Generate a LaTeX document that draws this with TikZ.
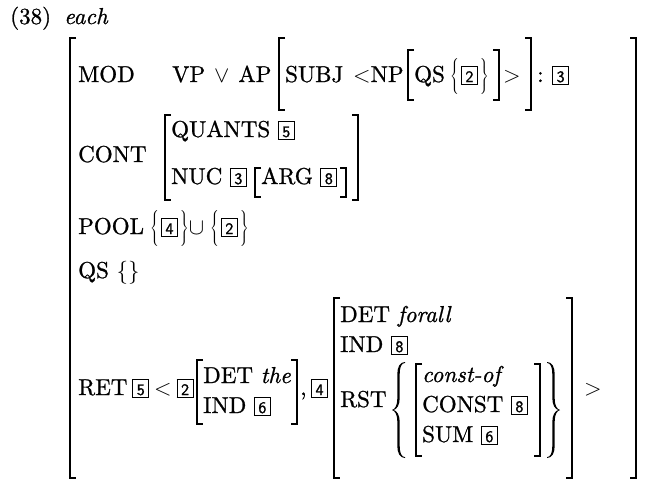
\RequirePackage{fix-cm}
\documentclass[tikz,border=0pt]{standalone}
\usepackage{fontspec}
\setmainfont{lmroman10-regular.otf}[ItalicFont=lmroman10-italic.otf, FakeBold=1.0]
\setsansfont{lmsans10-regular.otf}[FakeBold=1.2]
\newcommand\fs{\fontsize{23}{27}\selectfont}
\newcommand\bx[1]{{\setlength\fboxsep{0pt}\setlength\fboxrule{0.9pt}\fbox{\makebox[15pt]{\rule[-1.5pt]{0pt}{16.5pt}\fontsize{16}{16}\selectfont\sffamily #1}}}}
\newcommand\brc[3]{$\left\{\vrule height #1 depth #2 width 0pt\kern2pt\hbox{#3}\kern2pt\right\}$}
\newcommand\LB[3]{\draw[brk] (#1+6,#2) -- (#1,#2) -- (#1,#3) -- (#1+6,#3);}
\newcommand\RB[3]{\draw[brk] (#1-6,#2) -- (#1,#2) -- (#1,#3) -- (#1-6,#3);}
% brace shape, tip at origin, half height #1, opening to the right
\newcommand\BraceShape[1]{\fill (13,-#1) .. controls (8,-#1) and (5.3,-#1+5) .. (5.3,-#1+12) -- (5.3,-12) .. controls (5.3,-4) and (3,-1) .. (0,0) .. controls (3,1) and (5.3,4) .. (5.3,12) -- (5.3,#1-12) .. controls (5.3,#1-5) and (8,#1) .. (13,#1) -- (13,#1-0.9) .. controls (9.5,#1-1) and (7.7,#1-5) .. (7.7,#1-12) -- (7.7,12) .. controls (7.7,5) and (5,1) .. (1.8,0) .. controls (5,-1) and (7.7,-5) .. (7.7,-12) -- (7.7,-#1+12) .. controls (7.7,-#1+5) and (9.5,-#1+1) .. (13,-#1+0.9) -- cycle;}
\tikzset{t/.style={inner sep=0pt, anchor=base west, font=\fs},
  brk/.style={line width=1.3pt}}
\begin{document}
\begin{tikzpicture}[x=1pt,y=-1pt]
\useasboundingbox (0,0) rectangle (646,483);
% heading
\node[t] (n38) at (10,24) {(38)};
\node[t] (each) at (64,24) {\textit{each}};
% outer brackets
\LB{70}{38}{478} \RB{636}{38}{478}
% MOD row
\node[t] (mod) at (78,82) {MOD};
\node[t] (vpap) at (172,82) {VP\hspace{9pt}$\vee$\hspace{9pt}AP};
\LB{279}{38}{110}
\node[t] (subj) at (285,82) {SUBJ};
\node[t] (np) at (353,82) {$<$NP};
\LB{408}{50}{100}
\node[t] (qs1) at (414,82) {QS};
\node[t] (qsv) at (450,82) {\brc{24pt}{12pt}{\bx{2}}};
\RB{499}{50}{100}
\node[t] (gt1) at (503,82) {$>$};
\RB{531}{38}{110}
\node[t] (colon) at (537,82) {:};
\node[t] (b3) at (552,82) {\bx{3}};
% CONT row
\node[t] (cont) at (78,162) {CONT};
\LB{165}{115}{200} \RB{358}{115}{200}
\node[t] (quants) at (171,137) {QUANTS \bx{5}};
\node[t] (nuc) at (171,184) {NUC \bx{3}};
\LB{255}{168}{197} \RB{346}{168}{197}
\node[t] (arg) at (261,184) {ARG \bx{8}};
% POOL row
\node[t] (pool) at (78,234) {POOL};
\node[t] (poolv) at (150,234) {\brc{24pt}{12pt}{\bx{4}}$\cup$\hspace{6pt}\brc{24pt}{12pt}{\bx{2}}};
% QS row
\node[t] (qs2) at (78,278) {QS $\{\}$};
% RET row
\node[t] (ret) at (78,395) {RET\hspace{5pt}\bx{5}\hspace{5pt}$<$\hspace{5pt}\bx{2}};
\LB{197}{360}{424} \RB{297}{360}{424}
\node[t] (dthe) at (203,383) {DET \textit{the}};
\node[t] (ind6) at (203,413) {IND \bx{6}};
\node[t] (comma) at (300,395) {,};
\node[t] (b4) at (311,395) {\bx{4}};
\LB{334}{298}{478} \RB{572}{298}{478}
\node[t] (dfa) at (340,322) {DET \textit{forall}};
\node[t] (ind8) at (340,352) {IND \bx{8}};
\node[t] (rst) at (340,407) {RST};
\begin{scope}[shift={(392,410)}] \BraceShape{48} \end{scope}
\LB{416}{364}{456} \RB{540}{364}{456}
\node[t] (cof) at (422,382) {\textit{const-of}};
\node[t] (const) at (422,412) {CONST \bx{8}};
\node[t] (sum) at (422,442) {SUM \bx{6}};
\begin{scope}[shift={(560,410)}, xscale=-1] \BraceShape{48} \end{scope}
\node[t] (gt2) at (584,395) {$>$};
\end{tikzpicture}
\end{document}
